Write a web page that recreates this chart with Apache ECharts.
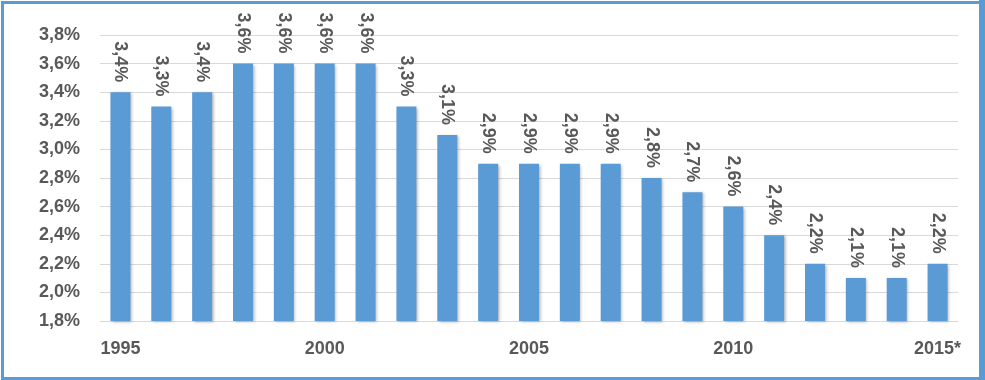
<!DOCTYPE html>
<html>
<head>
<meta charset="utf-8">
<script src="https://cdn.jsdelivr.net/npm/echarts@6/dist/echarts.min.js"></script>
<style>
html,body{margin:0;padding:0;background:#fff;}
#c{width:985px;height:380px;}
</style>
</head>
<body>
<div id="c"></div>
<script>
const years = ['1995','1996','1997','1998','1999','2000','2001','2002','2003','2004','2005','2006','2007','2008','2009','2010','2011','2012','2013','2014','2015*'];
const values = [3.4,3.3,3.4,3.6,3.6,3.6,3.6,3.3,3.1,2.9,2.9,2.9,2.9,2.8,2.7,2.6,2.4,2.2,2.1,2.1,2.2];
const labeledYears = ['1995','2000','2005','2010','2015*'];

const fmt = v => v.toFixed(1).replace('.', ',') + '%';
const chart = echarts.init(document.getElementById('c'), null, {renderer:'canvas'});
const font = 'Liberation Sans, Arial, sans-serif';
chart.setOption({
  animation:false,
  backgroundColor:'#fff',
  graphic:[{
    type:'rect', left:0, top:0, silent:true,
    shape:{x:1.5,y:1.5,width:980,height:376},
    style:{fill:null, stroke:'#5b9bd5', lineWidth:3}
  },{
    type:'rect', silent:true,
    shape:{x:979,y:0,width:6,height:380},
    style:{fill:'#5b9bd5'}
  }],
  grid:{left:100,right:27,top:35,bottom:59,containLabel:false},
  xAxis:{
    type:'category', data:years,
    axisTick:{show:false},
    axisLine:{lineStyle:{color:'#d9d9d9'}},
    axisLabel:{
      interval:0,
      margin:19,
      color:'#595959', fontWeight:'bold', fontSize:18, fontFamily:font,
      formatter:(v)=> labeledYears.includes(v) ? v : ''
    }
  },
  yAxis:{
    type:'value', min:1.8, max:3.8, interval:0.2,
    axisLine:{show:false}, axisTick:{show:false},
    splitLine:{lineStyle:{color:'#d9d9d9', width:1}},
    axisLabel:{
      margin:20,
      color:'#595959', fontWeight:'bold', fontSize:18, fontFamily:font,
      formatter:(v)=> fmt(v)
    }
  },
  series:[{
    type:'bar', data:values, barWidth:20,
    itemStyle:{color:'#5b9bd5', shadowColor:'rgba(0,0,0,0.3)', shadowBlur:3, shadowOffsetX:1.5, shadowOffsetY:1},
    label:{
      show:true, position:'top', rotate:-90, distance:10,
      align:'right', verticalAlign:'middle',
      color:'#595959', fontWeight:'bold', fontSize:18, fontFamily:font,
      formatter:(p)=> fmt(p.value)
    }
  }]
});
</script>
</body>
</html>
